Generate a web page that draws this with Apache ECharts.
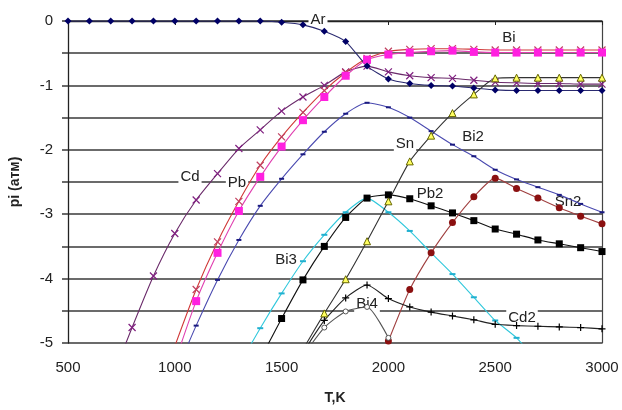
<!DOCTYPE html>
<html>
<head>
<meta charset="utf-8">
<script src="https://cdn.jsdelivr.net/npm/echarts@6/dist/echarts.min.js"></script>
<style>
  html, body { margin: 0; padding: 0; background: #fff; }
  #chart { width: 622px; height: 410px; }
</style>
</head>
<body>
<div id="chart"></div>
<script>
// temperature, K
var temps = [500, 600, 700, 800, 900, 1000, 1100, 1200, 1300, 1400, 1500, 1600, 1700,
  1800, 1900, 2000, 2100, 2200, 2300, 2400, 2500, 2600, 2700, 2800, 2900, 3000];

// log pi per species (null = no point)
var ar  = [0, 0, 0, 0, 0, 0, 0, 0, 0, 0, -0.02, -0.06, -0.16, -0.32, -0.7, -0.9, -0.97, -1.0, -1.01, -1.04, -1.07, -1.08, -1.08, -1.08, -1.08, -1.08];
var bi  = [null, null, null, null, null, -5.3, -4.35, -3.6, -2.95, -2.42, -1.95, -1.54, -1.18, -0.85, -0.6, -0.52, -0.49, -0.47, -0.46, -0.48, -0.49, -0.49, -0.49, -0.49, -0.49, -0.49];
var pb  = [null, null, null, null, null, -5.05, -4.17, -3.43, -2.8, -2.24, -1.8, -1.42, -1.08, -0.8, -0.58, -0.47, -0.44, -0.43, -0.43, -0.44, -0.45, -0.45, -0.45, -0.45, -0.45, -0.45];
var cd  = [null, null, -5.6, -4.76, -3.96, -3.3, -2.78, -2.37, -1.98, -1.69, -1.4, -1.18, -1.0, -0.79, -0.7, -0.79, -0.85, -0.88, -0.89, -0.92, -0.95, -0.96, -0.97, -0.97, -0.98, -0.98];
var sn  = [null, null, null, null, null, -5.5, -4.73, -4.02, -3.4, -2.87, -2.45, -2.07, -1.72, -1.44, -1.27, -1.34, -1.5, -1.71, -1.92, -2.1, -2.31, -2.46, -2.58, -2.7, -2.84, -2.97];
var bi2 = [null, null, null, null, null, null, null, null, null, null, null, -5.1, -4.54, -4.01, -3.42, -2.8, -2.18, -1.78, -1.43, -1.14, -0.89, -0.88, -0.88, -0.88, -0.88, -0.88];
var pb2 = [null, null, null, null, null, null, null, null, null, -5.25, -4.62, -4.02, -3.5, -3.05, -2.75, -2.7, -2.76, -2.87, -2.98, -3.1, -3.23, -3.31, -3.4, -3.46, -3.52, -3.58];
var bi3 = [null, null, null, null, null, null, null, null, -5.35, -4.77, -4.23, -3.73, -3.32, -2.97, -2.75, -2.97, -3.26, -3.6, -3.93, -4.29, -4.65, -4.92, -5.3, null, null, null];
var sn2 = [null, null, null, null, null, null, null, null, null, null, null, null, null, null, null, -4.97, -4.17, -3.6, -3.13, -2.73, -2.44, -2.6, -2.75, -2.9, -3.03, -3.15];
var bi4 = [null, null, null, null, null, null, null, null, null, null, null, -5.2, -4.76, -4.51, -4.44, -4.92, null, null, null, null, null, null, null, null, null, null];
var cd2 = [null, null, null, null, null, null, null, null, null, null, null, -5.15, -4.65, -4.3, -4.1, -4.31, -4.44, -4.52, -4.58, -4.64, -4.71, -4.73, -4.74, -4.75, -4.76, -4.78];

function pairs(vals) {
  var out = [];
  for (var i = 0; i < temps.length; i++) {
    if (vals[i] !== null) out.push([temps[i], vals[i]]);
  }
  return out;
}

var X_MARK = 'path://M0,0L10,10M10,0L0,10';
var PLUS_MARK = 'path://M5,0L5,10M0,5L10,5';

function line(name, vals, lineColor, symbol, size, item) {
  return {
    name: name,
    type: 'line',
    data: pairs(vals),
    symbol: symbol,
    symbolSize: size,
    showSymbol: true,
    smooth: 0.2,
    lineStyle: { color: lineColor, width: 1.1 },
    itemStyle: item,
    clip: true,
    emphasis: { disabled: true },
  };
}

var dom = document.getElementById('chart');
var myChart = echarts.init(dom, null, { renderer: 'canvas' });

var font = '"Liberation Sans", Arial, sans-serif';

function tag(text, x, y) {
  return {
    type: 'text',
    x: x,
    y: y,
    z: 1,
    style: {
      text: text,
      fill: '#222',
      font: '15px ' + font,
      align: 'center',
      verticalAlign: 'middle',
      backgroundColor: '#fff',
      padding: [1, 2],
    },
  };
}

var option = {
  animation: false,
  backgroundColor: '#fff',
  grid: { left: 67, right: 20, top: 21, bottom: 58 },
  xAxis: [
    {
      type: 'value',
      position: 'bottom',
      min: 500,
      max: 3000,
      interval: 500,
      name: 'T,K',
      nameLocation: 'middle',
      nameGap: 48,
      nameTextStyle: { fontFamily: font, fontSize: 14, fontWeight: 'bold', color: '#222' },
      axisLine: { show: false },
      axisTick: { show: false },
      splitLine: { show: false },
      axisLabel: {
        fontFamily: font,
        fontSize: 15,
        color: '#222',
        margin: 17,
        formatter: function (v) { return String(v); },
      },
    },
    {
      type: 'value',
      position: 'top',
      min: 500,
      max: 3000,
      interval: 500,
      axisLine: { show: true, lineStyle: { color: '#222', width: 1.3 } },
      axisTick: { show: true, inside: true, length: 4, lineStyle: { color: '#222' } },
      axisLabel: { show: false },
      splitLine: { show: false },
    },
  ],
  yAxis: [
    {
      type: 'value',
      min: -5,
      max: 0,
      interval: 0.5,
      name: 'pi (атм)',
      nameLocation: 'middle',
      nameGap: 46,
      nameRotate: 90,
      nameTextStyle: { fontFamily: font, fontSize: 14, fontWeight: 'bold', color: '#222' },
      axisLine: { show: true, lineStyle: { color: '#222', width: 1.3 } },
      axisTick: { show: true, length: 6, lineStyle: { color: '#3a3a3a', width: 1.5 } },
      axisLabel: {
        fontFamily: font,
        fontSize: 15,
        color: '#222',
        margin: 15,
        formatter: function (v) { return Number.isInteger(v) ? String(v) : ''; },
      },
      splitLine: { show: true, lineStyle: { color: '#3a3a3a', width: 1.5 } },
    },
    {
      type: 'value',
      position: 'right',
      min: -5,
      max: 0,
      interval: 0.5,
      axisLine: { show: true, lineStyle: { color: '#444', width: 1.2 } },
      axisTick: { show: false },
      axisLabel: { show: false },
      splitLine: { show: false },
    },
  ],
  graphic: [
    tag('Ar', 318, 20),
    tag('Bi', 509, 38),
    tag('Cd', 190, 177),
    tag('Pb', 237, 183),
    tag('Sn', 405, 144),
    tag('Bi2', 473, 137),
    tag('Pb2', 430, 194),
    tag('Sn2', 568, 202),
    tag('Bi3', 286, 260),
    tag('Bi4', 367, 304),
    tag('Cd2', 522, 318),
  ],
  series: [
    line('Cd', cd, '#6a2a6a', X_MARK, 7, { color: '#802080', borderColor: '#802080', borderWidth: 1.2 }),
    line('Sn', sn, '#4a4ab0', 'rect', [5, 2], { color: '#1a1a80' }),
    line('Pb', pb, '#d03838', X_MARK, 7, { color: '#c04060', borderColor: '#c04060', borderWidth: 1.2 }),
    line('Bi', bi, '#e040b0', 'rect', 8, { color: '#ff20e0' }),
    line('Ar', ar, '#2a2a70', 'diamond', 7, { color: '#000066' }),
    line('Bi3', bi3, '#30c8dc', 'rect', [6, 2], { color: '#20b0d0' }),
    line('Pb2', pb2, '#111', 'rect', 7, { color: '#000' }),
    line('Bi2', bi2, '#333', 'triangle', 7, { color: '#ffff60', borderColor: '#666600', borderWidth: 1 }),
    line('Sn2', sn2, '#a04040', 'circle', 7, { color: '#8b1010' }),
    line('Bi4', bi4, '#555', 'circle', 5, { color: '#fff', borderColor: '#555', borderWidth: 1 }),
    line('Cd2', cd2, '#222', PLUS_MARK, 7, { color: '#000', borderColor: '#000', borderWidth: 1.2 }),
  ],
};

if (option && typeof option === 'object') {
  myChart.setOption(option);
}

window.addEventListener('resize', myChart.resize);
</script>
</body>
</html>
